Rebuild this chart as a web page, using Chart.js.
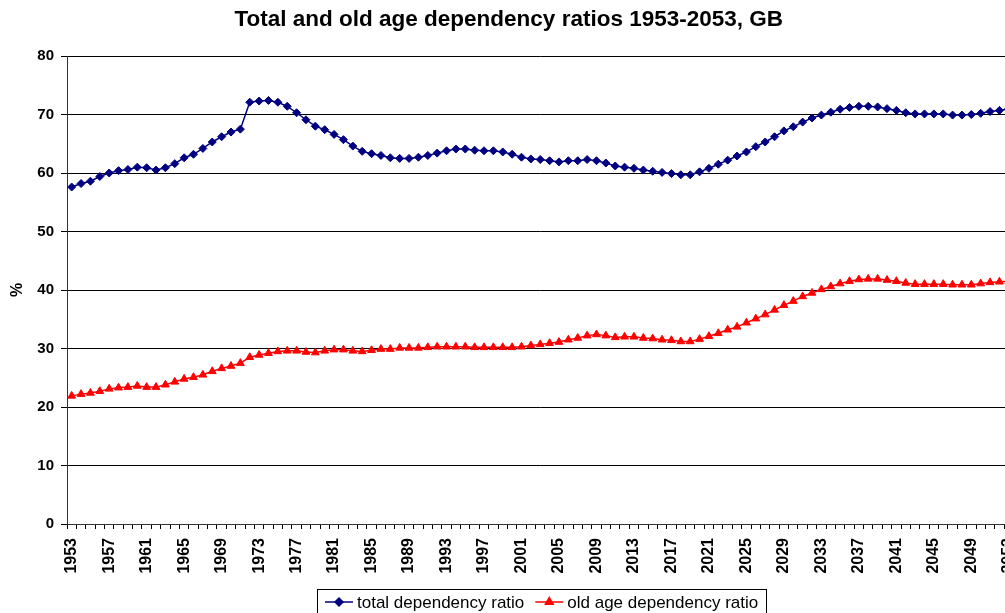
<!DOCTYPE html>
<html>
<head>
<meta charset="utf-8">
<title>Dependency ratios GB</title>
<script src="https://cdn.jsdelivr.net/npm/chart.js@4/dist/chart.umd.min.js"></script>
<style>
    html, body { margin: 0; padding: 0; background: #fff; overflow: hidden; }
    #wrap { width: 1005px; height: 613px; overflow: hidden; }
    canvas { display: block; }
</style>
</head>
<body>
<div id="wrap"><canvas id="ratioChart" width="1019" height="613"></canvas></div>
<script>
// Categories: one per year
const years = [
    1953, 1954, 1955, 1956, 1957, 1958, 1959, 1960, 1961, 1962,
    1963, 1964, 1965, 1966, 1967, 1968, 1969, 1970, 1971, 1972,
    1973, 1974, 1975, 1976, 1977, 1978, 1979, 1980, 1981, 1982,
    1983, 1984, 1985, 1986, 1987, 1988, 1989, 1990, 1991, 1992,
    1993, 1994, 1995, 1996, 1997, 1998, 1999, 2000, 2001, 2002,
    2003, 2004, 2005, 2006, 2007, 2008, 2009, 2010, 2011, 2012,
    2013, 2014, 2015, 2016, 2017, 2018, 2019, 2020, 2021, 2022,
    2023, 2024, 2025, 2026, 2027, 2028, 2029, 2030, 2031, 2032,
    2033, 2034, 2035, 2036, 2037, 2038, 2039, 2040, 2041, 2042,
    2043, 2044, 2045, 2046, 2047, 2048, 2049, 2050, 2051, 2052,
    2053
];

// Years that get a label on the x axis
const tickYears = [
    1953, 1957, 1961, 1965, 1969, 1973, 1977, 1981, 1985, 1989, 1993, 1997, 2001,
    2005, 2009, 2013, 2017, 2021, 2025, 2029, 2033, 2037, 2041, 2045, 2049, 2053
];

const totalRatio = [
    57.6, 58.2, 58.6, 59.4, 60.0, 60.4, 60.6, 61.0, 60.9, 60.5,
    60.9, 61.6, 62.6, 63.2, 64.2, 65.3, 66.2, 67.0, 67.5, 72.1,
    72.3, 72.4, 72.1, 71.4, 70.3, 69.1, 68.0, 67.4, 66.6, 65.7,
    64.6, 63.7, 63.3, 63.0, 62.6, 62.5, 62.5, 62.7, 63.0, 63.4,
    63.8, 64.1, 64.1, 63.9, 63.8, 63.8, 63.6, 63.2, 62.7, 62.4,
    62.3, 62.1, 61.9, 62.1, 62.1, 62.3, 62.1, 61.7, 61.2, 61.0,
    60.8, 60.5, 60.3, 60.1, 59.9, 59.7, 59.7, 60.2, 60.8, 61.5,
    62.2, 62.9, 63.6, 64.5, 65.3, 66.2, 67.2, 67.9, 68.7, 69.4,
    69.9, 70.4, 70.9, 71.2, 71.4, 71.4, 71.3, 71.0, 70.7, 70.3,
    70.1, 70.1, 70.1, 70.1, 69.9, 69.9, 70.0, 70.2, 70.5, 70.7,
    71.0
];

const oldAgeRatio = [
    21.9, 22.2, 22.4, 22.7, 23.1, 23.3, 23.4, 23.6, 23.4, 23.4,
    23.8, 24.3, 24.8, 25.1, 25.5, 26.1, 26.6, 27.0, 27.5, 28.5,
    28.9, 29.2, 29.5, 29.6, 29.6, 29.4, 29.3, 29.6, 29.8, 29.8,
    29.6, 29.5, 29.7, 29.9, 29.9, 30.1, 30.1, 30.1, 30.2, 30.3,
    30.3, 30.3, 30.3, 30.2, 30.2, 30.2, 30.2, 30.2, 30.3, 30.5,
    30.7, 30.9, 31.1, 31.5, 31.8, 32.2, 32.4, 32.2, 31.9, 32.0,
    32.0, 31.8, 31.7, 31.5, 31.4, 31.2, 31.2, 31.6, 32.1, 32.6,
    33.2, 33.7, 34.4, 35.1, 35.8, 36.6, 37.4, 38.1, 38.9, 39.5,
    40.1, 40.6, 41.1, 41.5, 41.8, 41.9, 41.9, 41.7, 41.5, 41.2,
    41.0, 41.0, 41.0, 41.0, 40.9, 40.9, 40.9, 41.1, 41.3, 41.4,
    41.5
];

const yMin = 0;
const yMax = 80;
const yStep = 10;

const FONT = '"Liberation Sans", Arial, sans-serif';

// Excel-style legend with a frame, drawn under the axis labels
const boxLegend = {
    id: 'boxLegend',
    afterDraw(chart) {
        const ctx = chart.ctx;
        const sample = 28, gap = 4, itemGap = 11, padX = 8;
        const left = 317, top = 589, baseline = 608, lineY = 602;

        ctx.save();
        ctx.font = '17px ' + FONT;
        const items = chart.data.datasets.map(ds => ({ ds: ds, w: ctx.measureText(ds.label).width }));
        let width = padX * 2 + itemGap * (items.length - 1);
        items.forEach(it => { width += sample + gap + it.w; });

        ctx.strokeStyle = '#000';
        ctx.lineWidth = 1;
        ctx.strokeRect(left + 0.5, top + 0.5, Math.round(width), 40);

        let x = left + padX;
        items.forEach(it => {
            ctx.strokeStyle = it.ds.borderColor;
            ctx.lineWidth = 1.5;
            ctx.beginPath();
            ctx.moveTo(x, lineY);
            ctx.lineTo(x + sample, lineY);
            ctx.stroke();
            ctx.fillStyle = it.ds.pointBackgroundColor;
            ctx.strokeStyle = it.ds.borderColor;
            Chart.helpers.drawPoint(ctx, {
                pointStyle: it.ds.pointStyle,
                radius: it.ds.pointRadius,
                borderWidth: 1,
                rotation: 0
            }, x + sample / 2, lineY);
            x += sample + gap;
            ctx.fillStyle = '#000';
            ctx.textBaseline = 'alphabetic';
            ctx.textAlign = 'left';
            ctx.fillText(it.ds.label, x, baseline);
            x += it.w + itemGap;
        });
        ctx.restore();
    }
};

function createRatioChart() {
    const ctx = document.getElementById('ratioChart').getContext('2d');
    new Chart(ctx, {
        type: 'line',
        data: {
            labels: years,
            datasets: [
                {
                    label: 'total dependency ratio',
                    data: totalRatio,
                    borderColor: '#000080',
                    backgroundColor: '#000080',
                    pointBackgroundColor: '#000080',
                    pointBorderColor: '#000080',
                    pointStyle: 'rectRot',
                    pointRadius: 4,
                    pointBorderWidth: 1,
                    borderWidth: 1.5,
                    tension: 0
                },
                {
                    label: 'old age dependency ratio',
                    data: oldAgeRatio,
                    borderColor: '#FF0000',
                    backgroundColor: '#FF0000',
                    pointBackgroundColor: '#FF0000',
                    pointBorderColor: '#FF0000',
                    pointStyle: 'triangle',
                    pointRadius: 4.5,
                    pointBorderWidth: 1,
                    borderWidth: 1.5,
                    tension: 0
                }
            ]
        },
        options: {
            responsive: false,
            animation: false,
            layout: { padding: { left: 0, right: 1.5, top: 0, bottom: 0 } },
            plugins: {
                legend: { display: false },
                tooltip: { enabled: false },
                title: {
                    display: true,
                    text: 'Total and old age dependency ratios 1953-2053, GB',
                    color: '#000',
                    font: { family: FONT, size: 22.5, weight: 'bold', lineHeight: 1.2 },
                    padding: { top: 6, bottom: 23 }
                }
            },
            scales: {
                x: {
                    type: 'category',
                    offset: true,
                    grid: {
                        offset: true,
                        drawOnChartArea: false,
                        drawTicks: true,
                        tickLength: 5,
                        color: '#000'
                    },
                    border: { color: '#333', width: 1 },
                    ticks: {
                        autoSkip: false,
                        minRotation: 90,
                        maxRotation: 90,
                        padding: 9,
                        color: '#000',
                        font: { family: FONT, size: 16, weight: 'bold' },
                        callback: function(value) {
                            const yr = this.getLabelForValue(value);
                            return tickYears.includes(yr) ? String(yr) : '';
                        }
                    },
                    afterFit: function(scale) {
                        scale.height = 89;
                        scale.paddingLeft = 0;
                        scale.paddingRight = 0;
                    }
                },
                y: {
                    min: yMin,
                    max: yMax,
                    grid: {
                        color: '#000',
                        lineWidth: 1,
                        tickLength: 6
                    },
                    border: { color: '#333', width: 1 },
                    ticks: {
                        stepSize: yStep,
                        padding: 7,
                        color: '#000',
                        font: { family: FONT, size: 15, weight: 'bold' }
                    },
                    title: {
                        display: true,
                        text: '%',
                        color: '#000',
                        font: { family: FONT, size: 16, weight: 'bold' },
                        padding: { top: 8, bottom: 0 }
                    },
                    afterFit: function(scale) {
                        scale.width = 67;
                        scale.paddingTop = 0;
                        scale.paddingBottom = 0;
                    }
                }
            }
        },
        plugins: [boxLegend]
    });
}

document.addEventListener('DOMContentLoaded', createRatioChart);
</script>
</body>
</html>
